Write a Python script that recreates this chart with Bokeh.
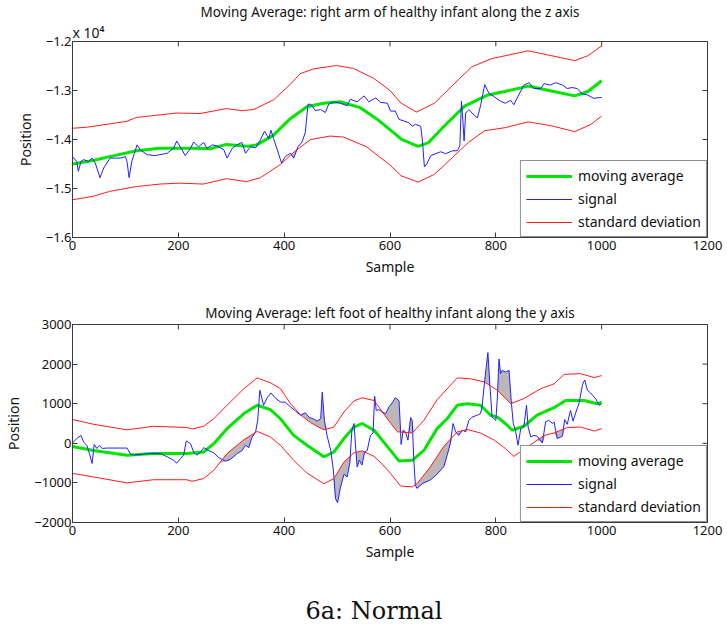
import numpy as np
from bokeh.plotting import figure
from bokeh.models import (Range1d, FixedTicker, Legend, LegendItem, Title, CustomJSTickFormatter)
from bokeh.layouts import column
from bokeh.embed import file_html
from bokeh.resources import INLINE

# ---------------- data ----------------
x_ticks = [0, 200, 400, 600, 800, 1000, 1200]
top_y_ticks = [-16000, -15000, -14000, -13000, -12000]
bottom_y_ticks = [-2000, -1000, 0, 1000, 2000, 3000]

top_title = "Moving Average: right arm of healthy infant along the z axis"
bottom_title = "Moving Average: left foot of healthy infant along the y axis"
top_multiplier = "x 10\u2074"
caption = "6a: Normal"
legend_labels = ["moving average", "signal", "standard deviation"]

# top panel (values in raw units, axis shown as x 10^4)
top_ma = [(0, -14500), (39, -14430), (70, -14350), (121, -14230), (165, -14180), (228, -14180),
          (260, -14190), (291, -14100), (329, -14140), (348, -14110), (380, -13910), (411, -13580),
          (443, -13330), (474, -13260), (506, -13230), (544, -13350), (575, -13580), (600, -13800),
          (621, -13990), (653, -14140), (672, -14070), (703, -13720), (741, -13320), (785, -13090),
          (817, -13020), (861, -12910), (905, -13010), (949, -13110), (974, -13020), (1000, -12800)]
top_upper = [(0, -13770), (27, -13750), (102, -13630), (121, -13550), (197, -13460), (241, -13470),
             (291, -13370), (320, -13410), (342, -13390), (380, -13190), (411, -12880), (430, -12660),
             (455, -12560), (499, -12490), (531, -12550), (569, -12750), (600, -13000), (621, -13260),
             (650, -13440), (684, -13260), (716, -12920), (754, -12520), (792, -12350), (861, -12190),
             (905, -12290), (949, -12390), (974, -12290), (1000, -12090)]
top_lower = [(0, -15230), (39, -15160), (70, -15060), (121, -14960), (165, -14910), (203, -14890),
             (247, -14910), (291, -14800), (329, -14860), (355, -14780), (393, -14510), (419, -14250),
             (450, -14000), (487, -13930), (512, -13950), (556, -14150), (600, -14520), (621, -14740),
             (653, -14870), (684, -14710), (716, -14390), (748, -14060), (779, -13820), (817, -13760),
             (861, -13640), (905, -13720), (949, -13840), (980, -13690), (1000, -13520)]
top_signal = [(0, -14350), (8, -14450), (11, -14650), (16, -14450), (21, -14410), (30, -14450),
              (37, -14380), (43, -14480), (52, -14780), (59, -14580), (71, -14380), (90, -14380),
              (100, -14350), (103, -14450), (107, -14780), (112, -14450), (122, -14110), (128, -14210),
              (141, -14310), (156, -14330), (179, -14280), (191, -14180), (197, -14030), (207, -14210),
              (213, -14330), (223, -14180), (229, -14050), (238, -14150), (248, -14060), (254, -14180),
              (264, -14110), (273, -14130), (286, -14210), (292, -14380), (302, -14180), (311, -14110),
              (320, -14060), (327, -14280), (336, -14150), (346, -14170), (355, -14010), (363, -13830),
              (371, -13980), (375, -13810), (380, -13980), (390, -14310), (395, -14480), (402, -14350),
              (412, -14280), (418, -14380), (426, -14150), (434, -14050), (440, -13850), (445, -13280),
              (450, -13280), (459, -13410), (469, -13390), (478, -13450), (484, -13280), (494, -13230),
              (506, -13260), (519, -13310), (525, -13180), (538, -13230), (551, -13110), (560, -13230),
              (573, -13150), (582, -13240), (595, -13260), (601, -13420), (610, -13420), (617, -13590),
              (626, -13620), (636, -13660), (642, -13730), (648, -13690), (658, -13730), (661, -13990),
              (665, -14560), (670, -14490), (677, -14330), (686, -14290), (696, -14250), (705, -14290),
              (718, -14230), (727, -14230), (732, -14130), (735, -13220), (738, -13660), (740, -14030),
              (743, -13460), (749, -13390), (755, -13460), (765, -13560), (771, -13320), (779, -12880),
              (787, -13060), (796, -13120), (809, -13220), (818, -13260), (828, -13200), (834, -13290),
              (840, -13160), (853, -12890), (863, -12840), (872, -12960), (885, -12960), (891, -12860),
              (903, -12890), (913, -12840), (926, -12890), (935, -12960), (944, -12940), (954, -12960),
              (963, -13070), (973, -13090), (985, -13160), (1000, -13140)]

# bottom panel
bottom_ma = [(0, -80), (40, -180), (103, -300), (153, -260), (216, -260), (248, -220), (267, -10),
             (292, 370), (324, 750), (349, 960), (374, 850), (393, 620), (418, 200), (443, -50),
             (475, -340), (494, -220), (513, 120), (532, 410), (547, 500), (570, 330), (601, -180),
             (617, -450), (642, -430), (664, -180), (689, 370), (708, 620), (727, 960), (746, 1000),
             (771, 960), (790, 710), (803, 660), (818, 500), (831, 330), (853, 430), (878, 710),
             (910, 900), (932, 1080), (967, 1080), (992, 1000), (1000, 1040)]
bottom_upper = [(0, 600), (40, 480), (103, 340), (153, 430), (216, 400), (226, 360), (248, 430),
                (267, 620), (292, 960), (324, 1380), (349, 1650), (374, 1530), (393, 1380), (412, 1000),
                (431, 720), (450, 520), (475, 340), (494, 410), (513, 790), (532, 1070), (547, 1150),
                (570, 1080), (601, 510), (614, 290), (642, 260), (664, 580), (689, 1100), (727, 1650),
                (752, 1630), (778, 1550), (803, 1340), (828, 1000), (853, 1130), (885, 1380),
                (910, 1500), (929, 1740), (960, 1760), (986, 1660), (1000, 1710)]
bottom_lower = [(0, -760), (40, -850), (103, -1000), (153, -920), (216, -920), (226, -960), (248, -890),
                (267, -680), (292, -260), (324, 90), (349, 300), (374, 160), (393, -50), (418, -430),
                (443, -750), (475, -1020), (494, -890), (513, -470), (532, -240), (547, -190),
                (570, -330), (585, -520), (601, -760), (620, -1080), (642, -1100), (651, -1020),
                (676, -600), (701, -90), (727, 290), (746, 350), (771, 260), (797, 80), (818, -130),
                (834, -330), (860, -90), (891, 200), (910, 260), (935, 400), (960, 410), (986, 310),
                (1000, 370)]
bottom_signal = [(0, 10), (8, 120), (16, 200), (21, 30), (27, -50), (32, -260), (37, -510), (41, -30),
                 (46, -130), (51, -50), (56, -130), (65, -120), (103, -120), (109, -260), (115, -300),
                 (141, -260), (166, -260), (179, -340), (191, -430), (197, -500), (204, -390),
                 (210, -300), (215, 60), (223, -10), (229, -220), (235, -300), (242, -220), (248, -110),
                 (257, -180), (267, -240), (276, -360), (289, -450), (298, -410), (311, -260),
                 (320, -190), (327, -50), (333, -110), (339, 140), (346, 290), (350, 580), (354, 1340),
                 (358, 1130), (361, 960), (368, 1150), (375, 1270), (383, 1150), (393, 1040),
                 (402, 1040), (412, 920), (421, 820), (431, 710), (440, 770), (447, 660), (456, 610),
                 (462, 560), (469, 620), (472, 1290), (476, 580), (481, 200), (488, -180), (493, -680),
                 (497, -1400), (501, -1500), (506, -1140), (513, -780), (519, -850), (524, -500),
                 (528, 330), (532, 500), (535, -90), (538, -600), (542, -430), (547, -550), (552, -220),
                 (557, -180), (563, 200), (568, 260), (571, 1190), (574, 830), (579, 850), (585, 790),
                 (592, 750), (598, 920), (604, 1020), (610, 1150), (617, 1080), (619, 580), (621, -30),
                 (625, 330), (629, 290), (634, 80), (639, 650), (642, 580), (645, -430), (648, -1060),
                 (651, -1140), (661, -1020), (677, -920), (689, -780), (702, -580), (708, -300),
                 (714, -10), (719, 500), (724, 290), (730, 200), (737, 330), (743, 290), (749, 580),
                 (755, 660), (765, 710), (771, 750), (774, 920), (779, 1590), (785, 2290), (789, 1420),
                 (793, 660), (800, 580), (803, 1170), (806, 2130), (809, 1760), (812, 1840), (818, 1800),
                 (825, 1840), (829, 1080), (833, 500), (837, 330), (842, -50), (847, 370), (853, 430),
                 (858, 960), (861, 410), (866, 160), (872, 200), (878, 180), (888, 10), (894, 540),
                 (900, 580), (907, 500), (910, 540), (916, 120), (926, 180), (930, 600), (935, 480),
                 (941, 830), (946, 560), (951, 770), (957, 1000), (964, 1490), (968, 1600), (973, 1340),
                 (979, 1270), (989, 1120), (995, 960), (1000, 1000)]

# ---------------- styling ----------------
AX = "#3a3a3a"
FONT = "Noto Sans"
GREEN = "#00e600"
BLUE = "#2020ff"
RED = "#ff1a1a"
GREY = "#bdb6b6"
TXT = "#111111"
FIG_W = 727
BORDER_L, BORDER_R = 72, 20
TICK_PX = 5


def xy(pts):
    a = np.array(pts, dtype=float)
    return a[:, 0], a[:, 1]


def style_axis(ax):
    ax.major_tick_in = TICK_PX
    ax.major_tick_out = 0
    ax.minor_tick_line_color = None
    ax.axis_line_color = AX
    ax.major_tick_line_color = AX
    ax.major_label_text_font = FONT
    ax.major_label_text_font_size = "13px"
    ax.major_label_text_color = TXT
    ax.axis_label_text_font = FONT
    ax.axis_label_text_font_size = "14px"
    ax.axis_label_text_font_style = "normal"
    ax.axis_label_text_color = TXT


def make_panel(height, top, bottom, yr, yticks, fmt, title, ma, up, lo, sig):
    p = figure(width=FIG_W, height=height, x_range=Range1d(0, 1200), y_range=Range1d(*yr),
               output_backend="svg", toolbar_location=None,
               min_border_left=BORDER_L, min_border_right=BORDER_R,
               min_border_top=top, min_border_bottom=bottom)
    p.xgrid.visible = False
    p.ygrid.visible = False
    p.outline_line_color = AX
    p.background_fill_color = "white"
    p.border_fill_color = "white"

    p.title.text = title
    p.title.align = "center"
    p.title.text_font = FONT
    p.title.text_font_size = "13.5px"
    p.title.text_font_style = "normal"
    p.title.text_color = TXT

    p.xaxis.ticker = FixedTicker(ticks=x_ticks)
    p.yaxis.ticker = FixedTicker(ticks=yticks)
    p.yaxis.formatter = CustomJSTickFormatter(code=fmt)
    p.xaxis.axis_label = "Sample"
    p.yaxis.axis_label = "Position"
    style_axis(p.xaxis[0])
    style_axis(p.yaxis[0])
    p.xaxis.major_label_standoff = 3
    p.yaxis.major_label_standoff = 1
    p.xaxis.axis_label_standoff = 4
    p.yaxis.axis_label_standoff = 8

    # mirrored inward ticks on the top and right edges of the box
    frame_w = FIG_W - BORDER_L - BORDER_R
    frame_h = height - top - bottom
    dy = TICK_PX * (yr[1] - yr[0]) / frame_h
    dx = TICK_PX * 1200 / frame_w
    p.segment(x0=x_ticks, y0=[yr[1]] * len(x_ticks), x1=x_ticks, y1=[yr[1] - dy] * len(x_ticks),
              line_color=AX, line_width=1)
    p.segment(x0=[1200] * len(yticks), y0=yticks, x1=[1200 - dx] * len(yticks), y1=yticks,
              line_color=AX, line_width=1)

    mx, my = xy(ma)
    ux, uy = xy(up)
    lx, ly = xy(lo)
    sx, sy = xy(sig)

    # grey shading where the signal leaves the deviation band
    ui = np.interp(sx, ux, uy)
    li = np.interp(sx, lx, ly)
    p.varea(x=sx, y1=ui, y2=np.maximum(sy, ui), fill_color=GREY, fill_alpha=1)
    p.varea(x=sx, y1=li, y2=np.minimum(sy, li), fill_color=GREY, fill_alpha=1)

    r_ma = p.line(mx, my, line_color=GREEN, line_width=3)
    r_sig = p.line(sx, sy, line_color=BLUE, line_width=1)
    r_up = p.line(ux, uy, line_color=RED, line_width=1)
    p.line(lx, ly, line_color=RED, line_width=1)

    legend = Legend(items=[LegendItem(label=legend_labels[0], renderers=[r_ma]),
                           LegendItem(label=legend_labels[1], renderers=[r_sig]),
                           LegendItem(label=legend_labels[2], renderers=[r_up])],
                    location="bottom_right", margin=0, padding=5, spacing=4,
                    glyph_width=46, glyph_height=18, label_height=18, label_standoff=6,
                    label_text_font=FONT, label_text_font_size="14px", label_text_color=TXT,
                    border_line_color="#222222", border_line_width=1,
                    background_fill_color="white", background_fill_alpha=1)
    p.add_layout(legend)
    return p


fmt_top = "return (tick/10000).toFixed(1).replace('-', '\u2212');"
fmt_bottom = "return tick.toFixed(0).replace('-', '\u2212');"

p1 = make_panel(290, 37, 53, (-16000, -12000), top_y_ticks, fmt_top, top_title,
                top_ma, top_upper, top_lower, top_signal)
p2 = make_panel(280, 34, 48, (-2000, 3000), bottom_y_ticks, fmt_bottom, bottom_title,
                bottom_ma, bottom_upper, bottom_lower, bottom_signal)

p1.title.standoff = 0
p2.title.standoff = 6
p1.add_layout(Title(text=top_multiplier, align="left", text_font=FONT, text_font_size="14px",
                    text_font_style="normal", text_color=TXT, standoff=0), "above")

# caption strip below the two panels (caption set as the strip's title)
CAP_H = 56
p3 = figure(width=FIG_W, height=CAP_H, x_range=Range1d(0, 1), y_range=Range1d(0, 1),
            x_axis_type=None, y_axis_type=None, output_backend="svg", toolbar_location=None,
            min_border_left=0, min_border_right=0, min_border_top=CAP_H - 2, min_border_bottom=0)
p3.xgrid.visible = False
p3.ygrid.visible = False
p3.outline_line_color = None
p3.background_fill_color = "white"
p3.border_fill_color = "white"
p3.title.text = caption
p3.title.align = "left"
p3.title.offset = 233
p3.title.standoff = 0
p3.title.text_font = "DejaVu Serif"
p3.title.text_font_size = "24px"
p3.title.text_font_style = "normal"
p3.title.text_color = TXT

layout = column(p1, p2, p3, spacing=0)
open("out.html", "w", encoding="utf-8").write(file_html(layout, INLINE))
